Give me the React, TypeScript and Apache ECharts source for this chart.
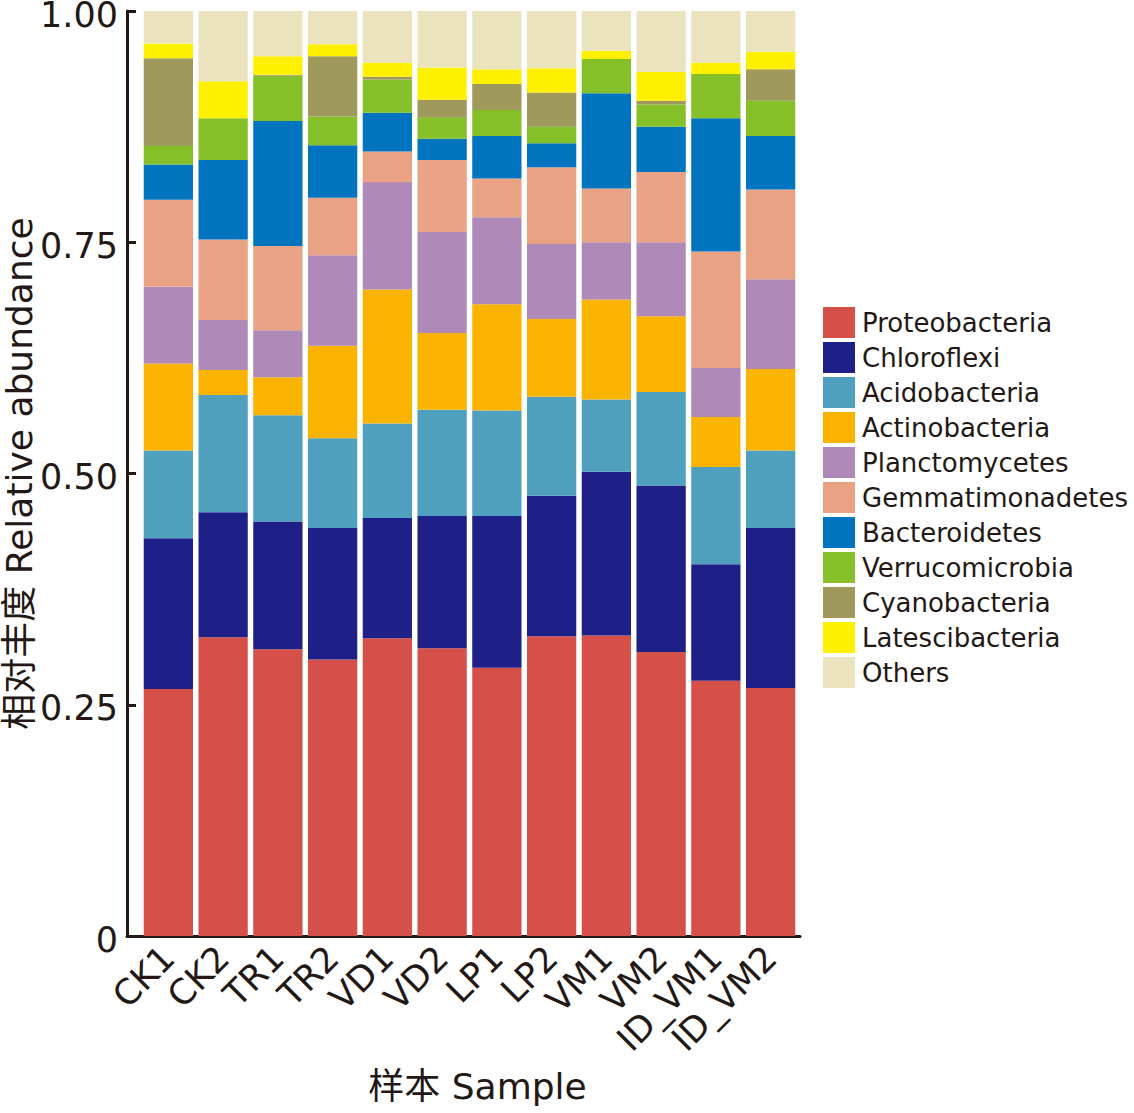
import React, { useEffect, useRef } from "react";
import * as echarts from "echarts";

const categories = ["CK1", "CK2", "TR1", "TR2", "VD1", "VD2", "LP1", "LP2", "VM1", "VM2", "ID_VM1", "ID_VM2"];
const yTicks = [0, 0.25, 0.5, 0.75, 1];

const proteobacteria = [0.267, 0.323, 0.310, 0.299, 0.322, 0.311, 0.290, 0.324, 0.325, 0.307, 0.276, 0.268];
const chloroflexi = [0.163, 0.135, 0.138, 0.142, 0.130, 0.143, 0.164, 0.152, 0.177, 0.180, 0.126, 0.173];
const acidobacteria = [0.095, 0.127, 0.115, 0.097, 0.102, 0.115, 0.114, 0.107, 0.078, 0.101, 0.105, 0.084];
const actinobacteria = [0.094, 0.027, 0.041, 0.100, 0.145, 0.083, 0.115, 0.084, 0.108, 0.082, 0.054, 0.088];
const planctomycetes = [0.083, 0.054, 0.051, 0.098, 0.116, 0.109, 0.094, 0.081, 0.062, 0.080, 0.053, 0.097];
const gemmatimonadetes = [0.094, 0.087, 0.091, 0.062, 0.033, 0.078, 0.042, 0.083, 0.058, 0.076, 0.126, 0.097];
const bacteroidetes = [0.038, 0.086, 0.135, 0.057, 0.042, 0.023, 0.046, 0.026, 0.103, 0.049, 0.144, 0.058];
const verrucomicrobia = [0.020, 0.045, 0.049, 0.031, 0.036, 0.023, 0.028, 0.018, 0.037, 0.024, 0.048, 0.038];
const cyanobacteria = [0.095, 0.000, 0.001, 0.065, 0.003, 0.019, 0.028, 0.037, 0.000, 0.004, 0.000, 0.034];
const latescibacteria = [0.016, 0.040, 0.020, 0.013, 0.015, 0.035, 0.016, 0.026, 0.009, 0.031, 0.012, 0.019];
const others = [0.035, 0.076, 0.049, 0.036, 0.056, 0.061, 0.063, 0.062, 0.043, 0.066, 0.056, 0.044];

const seriesNames = [
  "Proteobacteria", "Chloroflexi", "Acidobacteria", "Actinobacteria", "Planctomycetes",
  "Gemmatimonadetes", "Bacteroidetes", "Verrucomicrobia", "Cyanobacteria", "Latescibacteria", "Others",
];
const seriesData = [
  proteobacteria, chloroflexi, acidobacteria, actinobacteria, planctomycetes,
  gemmatimonadetes, bacteroidetes, verrucomicrobia, cyanobacteria, latescibacteria, others,
];
const colors = [
  "#D6504A", "#1E2088", "#4F9FBF", "#FAB400", "#AF89B8",
  "#E9A283", "#0074BE", "#86C028", "#A0995C", "#FFF000", "#EBE3BE",
];

const INK = "#231815";
const FONT = "'DejaVu Sans', 'Noto Sans CJK SC', sans-serif";

export default function App() {
  const ref = useRef<HTMLDivElement>(null);
  useEffect(() => {
    if (!ref.current) return;
    const chart = echarts.init(ref.current, null, { renderer: "svg" });
    chart.setOption({
      animation: false,
      color: colors,
      textStyle: { fontFamily: FONT, color: INK },
      legend: {
        orient: "vertical",
        left: 823,
        top: 307,
        padding: 0,
        itemWidth: 32,
        itemHeight: 31,
        itemGap: 4,
        icon: "rect",
        data: seriesNames,
        textStyle: { fontFamily: FONT, fontSize: 26, color: INK, padding: [0, 0, 0, 2] },
      },
      grid: [
        { left: 141, right: 336, top: 11, bottom: 177, outerBoundsMode: "none", containLabel: false },
        { left: 127, right: 334, top: 11, bottom: 177, outerBoundsMode: "none", containLabel: false },
      ],
      xAxis: [
        {
          type: "category",
          gridIndex: 0,
          data: categories,
          axisLine: { show: false },
          axisTick: { show: false },
          axisLabel: {
            interval: 0,
            rotate: 45,
            margin: 16,
            verticalAlign: "middle",
            fontFamily: FONT,
            fontSize: 35,
            color: INK,
          },
          name: "样本 Sample",
          nameLocation: "middle",
          nameGap: 132,
          nameMoveOverlap: false,
          nameTextStyle: { fontFamily: FONT, fontSize: 36, color: INK, padding: [0, 0, 0, 16] },
        },
        {
          type: "value",
          gridIndex: 1,
          min: 0,
          max: 1,
          axisLine: { show: true, lineStyle: { color: INK, width: 3 } },
          axisTick: { show: false },
          axisLabel: { show: false },
          splitLine: { show: false },
        },
      ],
      yAxis: [
        {
          type: "value",
          gridIndex: 0,
          min: 0,
          max: 1,
          interval: 0.25,
          offset: 14,
          axisLine: { show: true, lineStyle: { color: INK, width: 3 } },
          axisTick: { show: true, inside: true, length: 9, lineStyle: { color: INK, width: 3 } },
          splitLine: { show: false },
          axisLabel: {
            margin: 9,
            fontFamily: FONT,
            fontSize: 35,
            color: INK,
            formatter: (v: number) =>
              yTicks.includes(v) ? `{t|${v === 0 ? "0" : v.toFixed(2)}}` : "",
            rich: {
              t: { fontFamily: FONT, fontSize: 35, color: INK, padding: [7, 0, 0, 0] },
            },
          },
          name: "相对丰度 Relative abundance",
          nameLocation: "middle",
          nameGap: 90,
          nameMoveOverlap: false,
          nameTextStyle: { fontFamily: FONT, fontSize: 36, color: INK },
        },
        { type: "value", gridIndex: 1, show: false, min: 0, max: 1 },
      ],
      series: seriesNames.map((name, i) => ({
        name,
        type: "bar",
        stack: "total",
        xAxisIndex: 0,
        yAxisIndex: 0,
        barCategoryGap: "10%",
        data: seriesData[i],
        itemStyle: { color: colors[i] },
      })),
    });
    return () => chart.dispose();
  }, []);
  return (
    <div
      ref={ref}
      style={{ position: "absolute", left: 0, top: 0, width: 1134, height: 1113, background: "#fff" }}
    />
  );
}
